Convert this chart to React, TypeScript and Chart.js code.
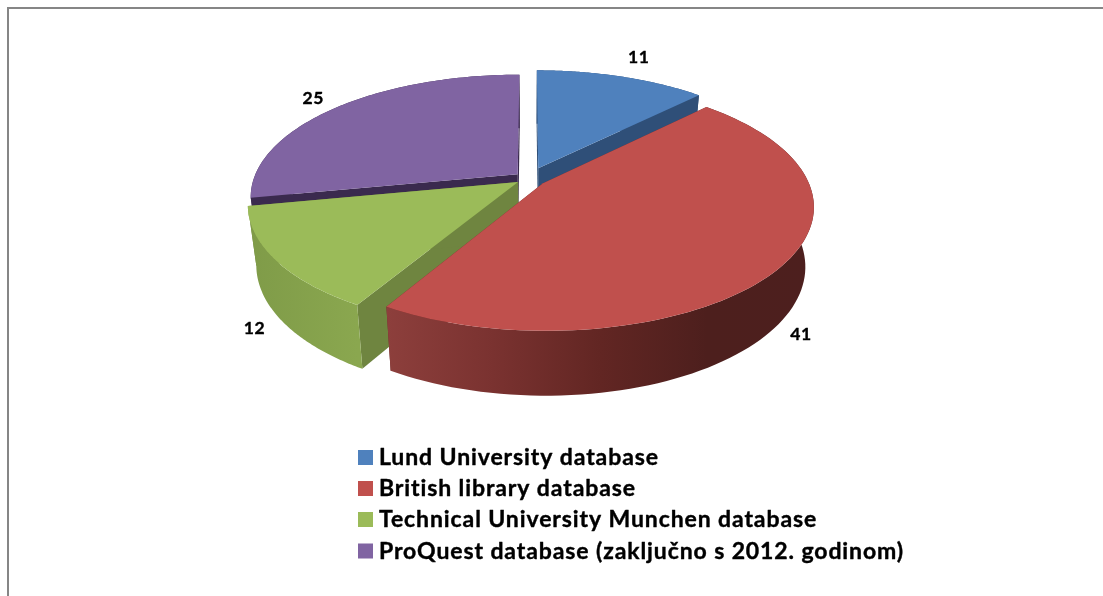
import React, { useEffect, useRef } from "react";
import { Chart, registerables } from "chart.js";

Chart.register(...registerables);

const categories = [
  "Lund University database",
  "British library database",
  "Technical University Munchen database",
  "ProQuest database (zaključno s 2012. godinom)",
];
const seriesValues = [11, 41, 12, 25];
const topColors = ["#4f81bd", "#c0504d", "#9bbb59", "#8064a2"];
const radialWallColors = ["#2f4f78", "#6e2b29", "#6f8540", "#3a2a4e"];
const outerWallStops: string[][] = [
  ["#2f4f78", "#2f4f78"],
  ["#8d3f3c", "#7a3230", "#622623", "#4d1f1d", "#4d1f1e"],
  ["#7f9b48", "#8aa74f"],
  ["#3a2a4e", "#3a2a4e"],
];
const labelRadius = [1.25, 1.07, 1.075, 1.148];
const explodeOffsets = [16, 11.3, 8.6, 9.5];

const PIE_RX = 264;
const PIE_RY = 119;
const PERSPECTIVE = 0.18;
const DEPTH = 58.5;
const BASE_SHRINK = 0.97;

type P = { x: number; y: number };

const depthAt = (w: number) => DEPTH / Math.sqrt(w);

function project(arc: any, u: number, v: number, base: boolean): P {
  const w = 1 + PERSPECTIVE * v;
  const dx = (PIE_RX * u) / w;
  const dy = (-PIE_RY * v) / w;
  if (!base) return { x: arc.x + dx, y: arc.y + dy };
  return { x: arc.x + dx * BASE_SHRINK, y: arc.y + dy + depthAt(w) };
}

// Chart.js angles: 0 = 3 o'clock, clockwise. Convert to unit-circle (u right, v back).
const toUV = (angle: number, r: number): [number, number] => [r * Math.cos(angle), -r * Math.sin(angle)];

function sliceGeom(arc: any) {
  const off = (arc.options.offset || 0) / arc.outerRadius;
  const mid = (arc.startAngle + arc.endAngle) / 2;
  const [ou, ov] = toUV(mid, off);
  return { ou, ov, mid };
}

function rimPoints(arc: any, base: boolean): P[] {
  const { ou, ov } = sliceGeom(arc);
  const pts: P[] = [];
  const n = 90;
  for (let i = 0; i <= n; i++) {
    const a = arc.startAngle + ((arc.endAngle - arc.startAngle) * i) / n;
    const [u, v] = toUV(a, 1);
    pts.push(project(arc, u + ou, v + ov, base));
  }
  return pts;
}

function fillPoly(ctx: CanvasRenderingContext2D, pts: P[], fill: string | CanvasGradient) {
  ctx.beginPath();
  pts.forEach((p, i) => (i ? ctx.lineTo(p.x, p.y) : ctx.moveTo(p.x, p.y)));
  ctx.closePath();
  ctx.fillStyle = fill;
  ctx.fill();
}

const pie3d = {
  id: "pie3d",
  beforeDraw(chart: any) {
    const { ctx, width, height } = chart;
    ctx.save();
    ctx.fillStyle = "#ffffff";
    ctx.fillRect(0, 0, width, height);
    ctx.fillStyle = "#868686";
    ctx.fillRect(7, 7, width - 7, 2);
    ctx.fillRect(7, 7, 2, height - 7);
    ctx.restore();
  },
  beforeDatasetDraw(chart: any) {
    const ctx: CanvasRenderingContext2D = chart.ctx;
    const arcs = chart.getDatasetMeta(0).data;
    const order = [3, 0, 2, 1];
    ctx.save();
    for (const i of order) {
      const arc = arcs[i];
      const { ou, ov } = sliceGeom(arc);
      const apexTop = project(arc, ou, ov, false);
      const apexBase = project(arc, ou, ov, true);
      const top = rimPoints(arc, false);
      const base = rimPoints(arc, true);
      const last = top.length - 1;
      // radial walls
      fillPoly(ctx, [apexTop, top[0], base[0], apexBase], radialWallColors[i]);
      fillPoly(ctx, [apexTop, top[last], base[last], apexBase], radialWallColors[i]);
      // outer wall
      const xs = top.map((p) => p.x);
      const g = ctx.createLinearGradient(Math.min(...xs), 0, Math.max(...xs), 0);
      const stops = outerWallStops[i];
      stops.forEach((c, k) => g.addColorStop(k / (stops.length - 1), c));
      fillPoly(ctx, [...top, ...base.slice().reverse()], g);
      // top face
      fillPoly(ctx, [apexTop, ...top], topColors[i]);
    }
    ctx.restore();
    return false;
  },
  afterDraw(chart: any) {
    const ctx: any = chart.ctx;
    const arcs = chart.getDatasetMeta(0).data;
    ctx.save();
    ctx.fillStyle = "#000000";
    ctx.strokeStyle = "#000000";
    ctx.lineWidth = 0.4;
    ctx.lineJoin = "round";
    ctx.textAlign = "center";
    ctx.textBaseline = "middle";
    ctx.font = "bold 17.5px Lato";
    ctx.letterSpacing = "0.7px";
    arcs.forEach((arc: any, i: number) => {
      const { ou, ov, mid } = sliceGeom(arc);
      const [u, v] = toUV(mid, labelRadius[i]);
      const p = project(arc, u + ou, v + ov, false);
      const w = 1 + PERSPECTIVE * v;
      const y = v < 0 ? p.y + depthAt(w) : p.y;
      ctx.fillText(String(seriesValues[i]), p.x, y);
      ctx.strokeText(String(seriesValues[i]), p.x, y);
    });
    // legend
    const rows = [457.5, 488.5, 519.5, 551];
    ctx.textAlign = "left";
    ctx.textBaseline = "alphabetic";
    ctx.font = "bold 23px Lato";
    ctx.letterSpacing = "0.9px";
    categories.forEach((c, i) => {
      ctx.fillStyle = topColors[i];
      ctx.fillRect(358, rows[i] - 7.5, 15, 15);
      ctx.fillStyle = "#000000";
      ctx.fillText(c, 379, rows[i] + 7.5);
      ctx.strokeText(c, 379, rows[i] + 7.5);
    });
    ctx.restore();
  },
};

export default function App() {
  const ref = useRef<HTMLCanvasElement>(null);
  useEffect(() => {
    document.body.style.margin = "0";
    const chart = new Chart(ref.current!, {
      type: "pie",
      data: {
        labels: categories,
        datasets: [
          {
            data: seriesValues,
            backgroundColor: topColors,
            offset: explodeOffsets,
            borderWidth: 0,
          },
        ],
      },
      options: {
        responsive: false,
        animation: false,
        layout: { padding: { top: 0, bottom: 239, left: 0, right: 45 } },
        plugins: { legend: { display: false }, tooltip: { enabled: false } },
      },
      plugins: [pie3d],
    } as any);
    return () => chart.destroy();
  }, []);
  return <canvas ref={ref} width={1103} height={596} style={{ display: "block" }} />;
}
